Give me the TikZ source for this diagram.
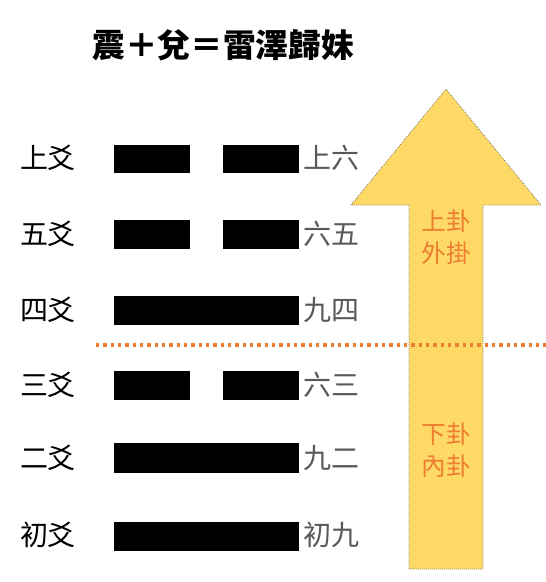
\documentclass[tikz,border=0pt]{standalone}
\usepackage{fontspec}
\usepackage{tikz}
\newfontfamily\cjk{Noto Sans CJK TC}
\definecolor{arrowfill}{HTML}{FFD966}
\definecolor{accent}{HTML}{ED7D31}
\definecolor{labelgray}{HTML}{595959}
\tikzset{
  yaoname/.style={font=\cjk\fontsize{21}{25}\selectfont, text=black, inner sep=0pt},
  yaovalue/.style={font=\cjk\fontsize{21}{25}\selectfont, text=labelgray, inner sep=0pt, anchor=west},
  guaname/.style={font=\cjk\fontsize{18.5}{25}\selectfont, text=accent, inner sep=0pt, align=center},
  yang/.style={fill=black},
}
\begin{document}
\begin{tikzpicture}[x=0.75pt, y=-0.75pt]
\useasboundingbox (0,0) rectangle (546,582);
% title
\node[font=\cjk\bfseries\fontsize{24.5}{28}\selectfont, inner sep=0pt] (title) at (223,45) {震＋兌＝雷澤歸妹};
% arrow
\filldraw[fill=arrowfill, draw=black!70, densely dotted, line width=0.5pt]
  (446,89) -- (541,205) -- (483,205) -- (483,569) -- (409,569) -- (409,205) -- (351,205) -- cycle;
\node[guaname] (upper) at (446,237.5) {上卦\\[-1pt]外掛};
\node[guaname] (lower) at (446,450) {下卦\\[-1pt]內卦};
% divider
\draw[accent, line width=2.6pt, dash pattern=on 2.6pt off 2.9pt] (96,345) -- (546,345);
% lines of the hexagram
\fill[yang] (114,145) rectangle (190,173);
\fill[yang] (223,145) rectangle (299,173);
\fill[yang] (114,220) rectangle (190,249);
\fill[yang] (223,220) rectangle (299,249);
\fill[yang] (114,296) rectangle (299,325);
\fill[yang] (114,371) rectangle (190,400);
\fill[yang] (223,371) rectangle (299,400);
\fill[yang] (114,443) rectangle (299,473);
\fill[yang] (114,522) rectangle (299,551);
% names
\node[yaoname] (top) at (48,158) {上爻};
\node[yaoname] (fifth) at (48,234) {五爻};
\node[yaoname] (fourth) at (48,310) {四爻};
\node[yaoname] (third) at (48,385) {三爻};
\node[yaoname] (second) at (48,458) {二爻};
\node[yaoname] (first) at (48,535) {初爻};
\node[yaovalue] (topv) at (303,158) {上六};
\node[yaovalue] (fifthv) at (303,234) {六五};
\node[yaovalue] (fourthv) at (303,310) {九四};
\node[yaovalue] (thirdv) at (303,385) {六三};
\node[yaovalue] (secondv) at (303,458) {九二};
\node[yaovalue] (firstv) at (303,535) {初九};
\end{tikzpicture}
\end{document}
